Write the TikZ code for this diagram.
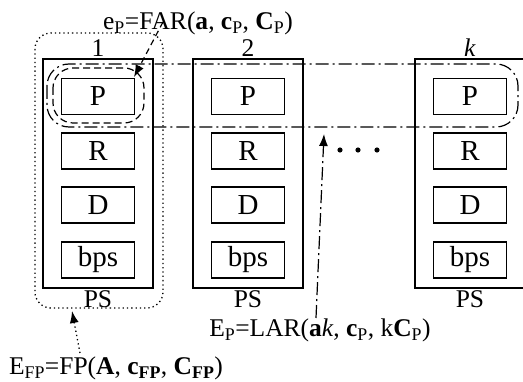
\documentclass[tikz,border=0pt]{standalone}
\usepackage{fontspec}
\setmainfont{Liberation Serif}
\usetikzlibrary{arrows.meta}

\begin{document}
\begin{tikzpicture}[x=1pt, y=-1pt, >={Latex[length=12pt,width=9pt]},
  psbox/.style={draw, line width=2.8pt, minimum width=110pt, minimum height=229pt, inner sep=0pt},
  cell/.style={draw, line width=1.2pt, minimum width=73pt, minimum height=36pt, inner sep=0pt, font=\fontsize{29}{30}\selectfont},
  lbl/.style={anchor=base, inner sep=0pt, font=\fontsize{25.5}{27}\selectfont},
  dashdot/.style={line width=1.2pt, dash pattern=on 13pt off 4pt on 2pt off 4pt}]
\useasboundingbox (0,0) rectangle (523,382);
% the three parameter sets
\foreach \n/\x/\t in {1/98/1, 2/248/2, k/470/\textit{k}} {
  \node[psbox] (ps\n) at (\x,173.5) {};
  \node[cell] (p\n) at (\x,96.5) {P};\node[cell] (r\n) at (\x,151) {R};
  \node[cell] (d\n) at (\x,205) {D};\node[cell] (b\n) at (\x,260) {bps};
  \node[lbl] (num\n) at (\x,57) {\t};\node[lbl] (name\n) at (\x,308) {PS};
}
\fill (340,150) circle (2.6pt);\fill (358,150) circle (2.6pt);\fill (377,150) circle (2.6pt);
% groupings
\draw[dashdot, rounded corners=22pt] (47,64) rectangle (518,127);
\draw[line width=1.2pt, dash pattern=on 7pt off 4pt, rounded corners=20pt] (53,68) rectangle (144,123);
\draw[line width=1.3pt, dash pattern=on 1.3pt off 3pt, rounded corners=16pt] (35,33) rectangle (163,308);
% labels and pointers
\node[lbl] (eP) at (198,30) {e\textsubscript{P}=FAR(\textbf{a}, \textbf{c}\textsubscript{P}, \textbf{C}\textsubscript{P})};
\node[lbl] (EP) at (320,337) {E\textsubscript{P}=LAR(\textbf{a}\textit{k}, \textbf{c}\textsubscript{P}, k\textbf{C}\textsubscript{P})};
\node[lbl] (EFP) at (116,375) {E\textsubscript{FP}=FP(\textbf{A}, \textbf{c}\textsubscript{\textbf{FP}}, \textbf{C}\textsubscript{\textbf{FP}})};
\coordinate (farTip) at (134,77);\coordinate (larTip) at (324,134);\coordinate (fpTip) at (72,311);
\draw[->, line width=1.2pt, dash pattern=on 6pt off 4pt] ([xshift=-35pt,yshift=8pt]eP.base) -- (farTip);
\draw[->, dashdot] ([xshift=-4pt,yshift=19pt]EP.base) -- (larTip);
\draw[->, line width=1.3pt, dash pattern=on 1.3pt off 3pt] ([xshift=-36pt,yshift=22pt]EFP.base) -- (fpTip);
\end{tikzpicture}
\end{document}
